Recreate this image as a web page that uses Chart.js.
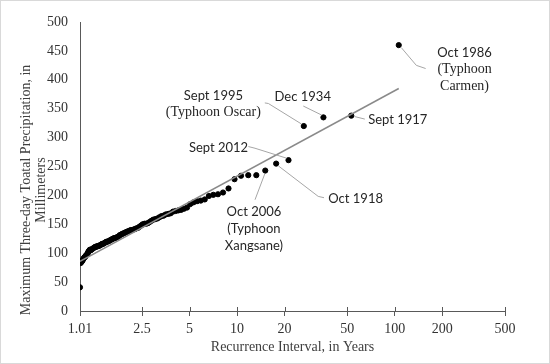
<!DOCTYPE html>
<html lang="en">
<head>
<meta charset="UTF-8">
<title>Recurrence interval</title>
<script src="https://cdn.jsdelivr.net/npm/chart.js"></script>
<style>
    html, body { margin: 0; padding: 0; background: #fff; }
</style>
</head>
<body>
<canvas id="grafico" width="550" height="364"></canvas>
<script>
    // annual maximum three-day totals, ranked (largest first)
    var returnPeriod = [106, 53, 35.3, 26.5, 21.2, 17.7, 15.1, 13.25, 11.78, 10.6,
        9.64, 8.83, 8.15, 7.57, 7.07, 6.63, 6.24, 5.89, 5.58, 5.3,
        5.05, 4.82, 4.61, 4.42, 4.24, 4.08, 3.93, 3.79, 3.66, 3.53,
        3.42, 3.31, 3.21, 3.12, 3.03, 2.94, 2.86, 2.79, 2.72, 2.65,
        2.59, 2.52, 2.47, 2.41, 2.36, 2.30, 2.26, 2.21, 2.16, 2.12,
        2.08, 2.04, 2.0, 1.96, 1.93, 1.89, 1.86, 1.83, 1.80, 1.77,
        1.74, 1.71, 1.68, 1.66, 1.63, 1.61, 1.58, 1.56, 1.54, 1.51,
        1.49, 1.47, 1.45, 1.43, 1.41, 1.39, 1.38, 1.36, 1.34, 1.325,
        1.31, 1.29, 1.28, 1.26, 1.25, 1.23, 1.22, 1.20, 1.19, 1.18,
        1.165, 1.15, 1.14, 1.13, 1.12, 1.10, 1.09, 1.08, 1.07, 1.06,
        1.05, 1.04, 1.03, 1.02, 1.01];
    var precipMm = [460, 338, 335, 320, 261, 255, 243, 235, 235, 234,
        228, 212, 205, 202, 201, 199, 193, 191, 190, 188,
        185, 179, 177, 175, 174, 173, 172, 169, 168, 167,
        165, 164, 162, 160, 159, 158, 156, 154, 152, 151,
        151, 150, 148, 146, 144, 143, 142, 141, 140, 140,
        139, 138, 137, 136, 135, 134, 133, 132, 131, 129,
        128, 127, 126, 126, 125, 124, 123, 122, 121, 120,
        120, 119, 118, 117, 116, 116, 115, 114, 113, 113,
        112, 112, 111, 111, 110, 109, 108, 107, 106, 105,
        106, 104, 102, 100, 98, 96, 94, 93, 92, 90,
        88, 86, 85, 83, 41];

    // fitted line (two ends)
    var trendT = [1.01, 106];
    var trendMm = [86, 385];

    var xTicks = [1.01, 2.5, 5, 10, 20, 50, 100, 200, 500];

    // storm labels: text lines, anchor (years, mm), alignment
    var noteText = [
        ['Oct 1986', '(Typhoon', 'Carmen)'],
        ['Sept 1995', '(Typhoon Oscar)'],
        ['Dec 1934'],
        ['Sept 1917'],
        ['Sept 2012'],
        ['Oct 1918'],
        ['Oct 2006', '(Typhoon', 'Xangsane)']
    ];
    var noteSerif = [[0, 1, 1], [0, 1], [0], [0], [0], [0], [0, 0, 0]];
    var noteT = [277, 7.08, 26.1, 67.8, 7.63, 37.9, 12.8];
    var noteMm = [447, 371.8, 370.7, 331.6, 281.6, 194.3, 171.3];
    var noteAlign = ['center', 'center', 'center', 'left', 'center', 'left', 'center'];

    // leader lines, each a list of [years, mm]
    var leaders = [
        [[110, 455.7], [137, 425], [157, 419.5]],
        [[15.0, 360], [15.8, 359], [25.6, 323.6]],
        [[26.3, 354.6], [34.4, 339]],
        [[55.5, 336.5], [64.6, 332]],
        [[11.8, 284.5], [13.0, 281.6], [20.6, 264.4]],
        [[18.3, 251], [32.7, 198.3], [35.6, 196]],
        [[15.0, 237.4], [13.0, 192.5]]
    ];

    var serif = "'Liberation Serif', 'Times New Roman', serif";
    var sans = "Lato, 'Liberation Sans', sans-serif";

    var notasPlugin = {
        id: 'notas',
        afterDraw: function (chart) {
            var ctx = chart.ctx;
            var xs = chart.scales.x;
            var ys = chart.scales.y;
            ctx.save();

            // tick marks above the x axis (they cross the line)
            ctx.strokeStyle = '#595959';
            ctx.lineWidth = 1;
            for (var k = 0; k < xTicks.length; k++) {
                var tx = Math.round(xs.getPixelForValue(xTicks[k])) + 0.5;
                ctx.beginPath();
                ctx.moveTo(tx, ys.bottom - 4);
                ctx.lineTo(tx, ys.bottom);
                ctx.stroke();
            }

            // leader lines
            ctx.strokeStyle = '#a6a6a6';
            ctx.lineWidth = 1;
            leaders.forEach(function (pts) {
                ctx.beginPath();
                pts.forEach(function (p, i) {
                    var px = xs.getPixelForValue(p[0]);
                    var py = ys.getPixelForValue(p[1]);
                    if (i == 0) ctx.moveTo(px, py); else ctx.lineTo(px, py);
                });
                ctx.stroke();
            });

            // labels
            ctx.fillStyle = '#262626';
            ctx.textBaseline = 'middle';
            for (var n = 0; n < noteText.length; n++) {
                var x0 = xs.getPixelForValue(noteT[n]);
                var y0 = ys.getPixelForValue(noteMm[n]);
                ctx.textAlign = noteAlign[n];
                for (var l = 0; l < noteText[n].length; l++) {
                    ctx.font = noteSerif[n][l] ? '14px ' + serif : '13px ' + sans;
                    ctx.fillText(noteText[n][l], x0, y0 + l * 16.7);
                }
            }

            // y axis title (two lines, rotated)
            ctx.translate(33, 190);
            ctx.rotate(-Math.PI / 2);
            ctx.textAlign = 'center';
            ctx.font = '14px ' + serif;
            ctx.fillStyle = '#404040';
            ctx.fillText('Maximum Three-day Toatal Precipitation, in', 0, -7);
            ctx.fillText('Millimeters', 0, 8);
            ctx.restore();

            // outer frame
            ctx.save();
            ctx.strokeStyle = '#d9d9d9';
            ctx.lineWidth = 1;
            ctx.strokeRect(0.5, 0.5, chart.width - 1, chart.height - 1);
            ctx.restore();
        }
    };

    var pontos = [];
    for (var i = 0; i < returnPeriod.length; i++) {
        pontos.push({ x: returnPeriod[i], y: precipMm[i] });
    }
    var linha = [];
    for (var j = 0; j < trendT.length; j++) {
        linha.push({ x: trendT[j], y: trendMm[j] });
    }

    new Chart(document.getElementById('grafico'), {
        type: 'scatter',
        data: {
            datasets: [{
                label: 'Annual maximum',
                data: pontos,
                backgroundColor: '#000000',
                borderColor: '#000000',
                pointRadius: 2.6,
                order: 2
            }, {
                type: 'line',
                label: 'Fitted',
                data: linha,
                borderColor: '#8a8a8a',
                borderWidth: 1.5,
                pointRadius: 0,
                fill: false,
                order: 1
            }]
        },
        options: {
            responsive: false,
            animation: false,
            layout: { padding: { left: 0, right: 45, top: 22, bottom: 0 } },
            plugins: {
                legend: { display: false },
                tooltip: { enabled: false }
            },
            scales: {
                x: {
                    type: 'logarithmic',
                    min: 1.01,
                    max: 500,
                    afterBuildTicks: function (s) {
                        s.ticks = xTicks.map(function (v) { return { value: v }; });
                    },
                    afterFit: function (s) { s.height = 53; },
                    ticks: {
                        autoSkip: false,
                        maxRotation: 0,
                        padding: 5,
                        color: '#333333',
                        font: { family: serif, size: 14 },
                        callback: function (v) { return String(v); }
                    },
                    grid: { drawOnChartArea: false, color: '#595959', tickLength: 5 },
                    border: { color: '#595959' },
                    title: {
                        display: true,
                        text: 'Recurrence Interval, in Years',
                        color: '#404040',
                        font: { family: serif, size: 14 },
                        padding: { top: 0, bottom: 8 }
                    }
                },
                y: {
                    min: 0,
                    max: 500,
                    afterFit: function (s) { s.width = 80; },
                    ticks: {
                        stepSize: 50,
                        padding: 12,
                        color: '#333333',
                        font: { family: serif, size: 14 }
                    },
                    grid: { drawOnChartArea: false, drawTicks: false },
                    border: { color: '#595959' }
                }
            }
        },
        plugins: [notasPlugin]
    });
</script>
</body>
</html>
